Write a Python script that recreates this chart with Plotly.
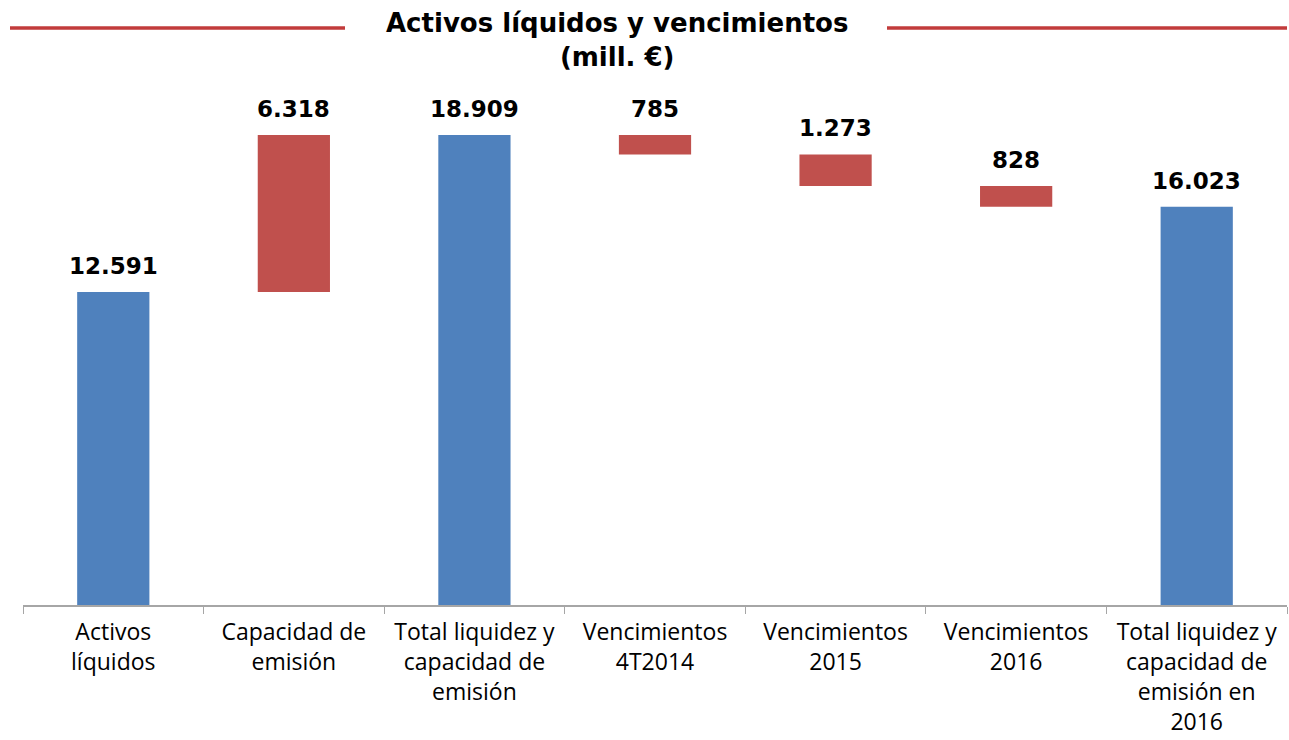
import plotly.graph_objects as go

categories = [
    "Activos<br>líquidos",
    "Capacidad de<br>emisión",
    "Total liquidez y<br>capacidad de<br>emisión",
    "Vencimientos<br>4T2014",
    "Vencimientos<br>2015",
    "Vencimientos<br>2016",
    "Total liquidez y<br>capacidad de<br>emisión en<br>2016",
]
values = [12591, 6318, 18909, -785, -1273, -828, 16023]
kinds = ["total", "delta", "total", "delta", "delta", "delta", "total"]

BLUE = "#4f81bd"
RED = "#c0504d"

# compute bar bases / heights from the data
bases, heights, colors, tops = [], [], [], []
level = 0
for v, k in zip(values, kinds):
    if k == "total":
        bases.append(0)
        heights.append(v)
        colors.append(BLUE)
        level = v
        tops.append(v)
    else:
        new = level + v
        lo, hi = min(level, new), max(level, new)
        bases.append(lo)
        heights.append(hi - lo)
        colors.append(RED)
        tops.append(hi)
        level = new

fig = go.Figure()
fig.add_trace(go.Bar(
    x=categories, y=heights, base=bases,
    marker=dict(color=colors, line=dict(width=0)),
    width=0.4, hoverinfo="skip",
))

for c, t, v in zip(categories, tops, values):
    fig.add_annotation(
        x=c, y=t, text=f"{abs(v):,}".replace(",", "."),
        showarrow=False, yanchor="bottom", yshift=11,
        font=dict(family="DejaVu Sans", size=23, color="#000000", weight="bold"),
    )

W, H = 1289, 740
L, T = 23, 100
R = W - 1287
B = H - 605
pw = W - L - R
ph = H - T - B

def px_x(x):
    return (x - L) / pw

def px_y(y):
    return (H - B - y) / ph

fig.add_annotation(
    xref="paper", yref="paper", x=px_x(617), y=px_y(40), yanchor="middle",
    text="Activos líquidos y vencimientos<br>(mill. €)", showarrow=False,
    font=dict(family="DejaVu Sans", size=26, color="#000000", weight="bold"),
)
for x0, x1 in [(10, 345), (887, 1287)]:
    fig.add_shape(type="line", xref="paper", yref="paper",
                  x0=px_x(x0), x1=px_x(x1), y0=px_y(28), y1=px_y(28),
                  line=dict(color="#c23b3b", width=3.5))

fig.update_layout(
    width=W, height=H, autosize=False,
    margin=dict(l=L, r=R, t=T, b=B),
    plot_bgcolor="white", paper_bgcolor="white",
    showlegend=False, bargap=0.6,
    xaxis=dict(
        automargin=False,
        showline=True, linecolor="#a6a6a6", linewidth=1.5,
        ticks="outside", tickson="boundaries", ticklen=7, tickcolor="#a6a6a6",
        tickfont=dict(family="Open Sans", size=23, color="#000000"),
        tickangle=0, ticklabelstandoff=6,
    ),
    yaxis=dict(visible=False, automargin=False, range=[0, 505 / 0.02486]),
)

fig.write_html(
    "out.html",
    config={"responsive": False, "displayModeBar": False},
    post_script="document.body.style.margin='0';document.body.style.overflow='hidden';",
)
